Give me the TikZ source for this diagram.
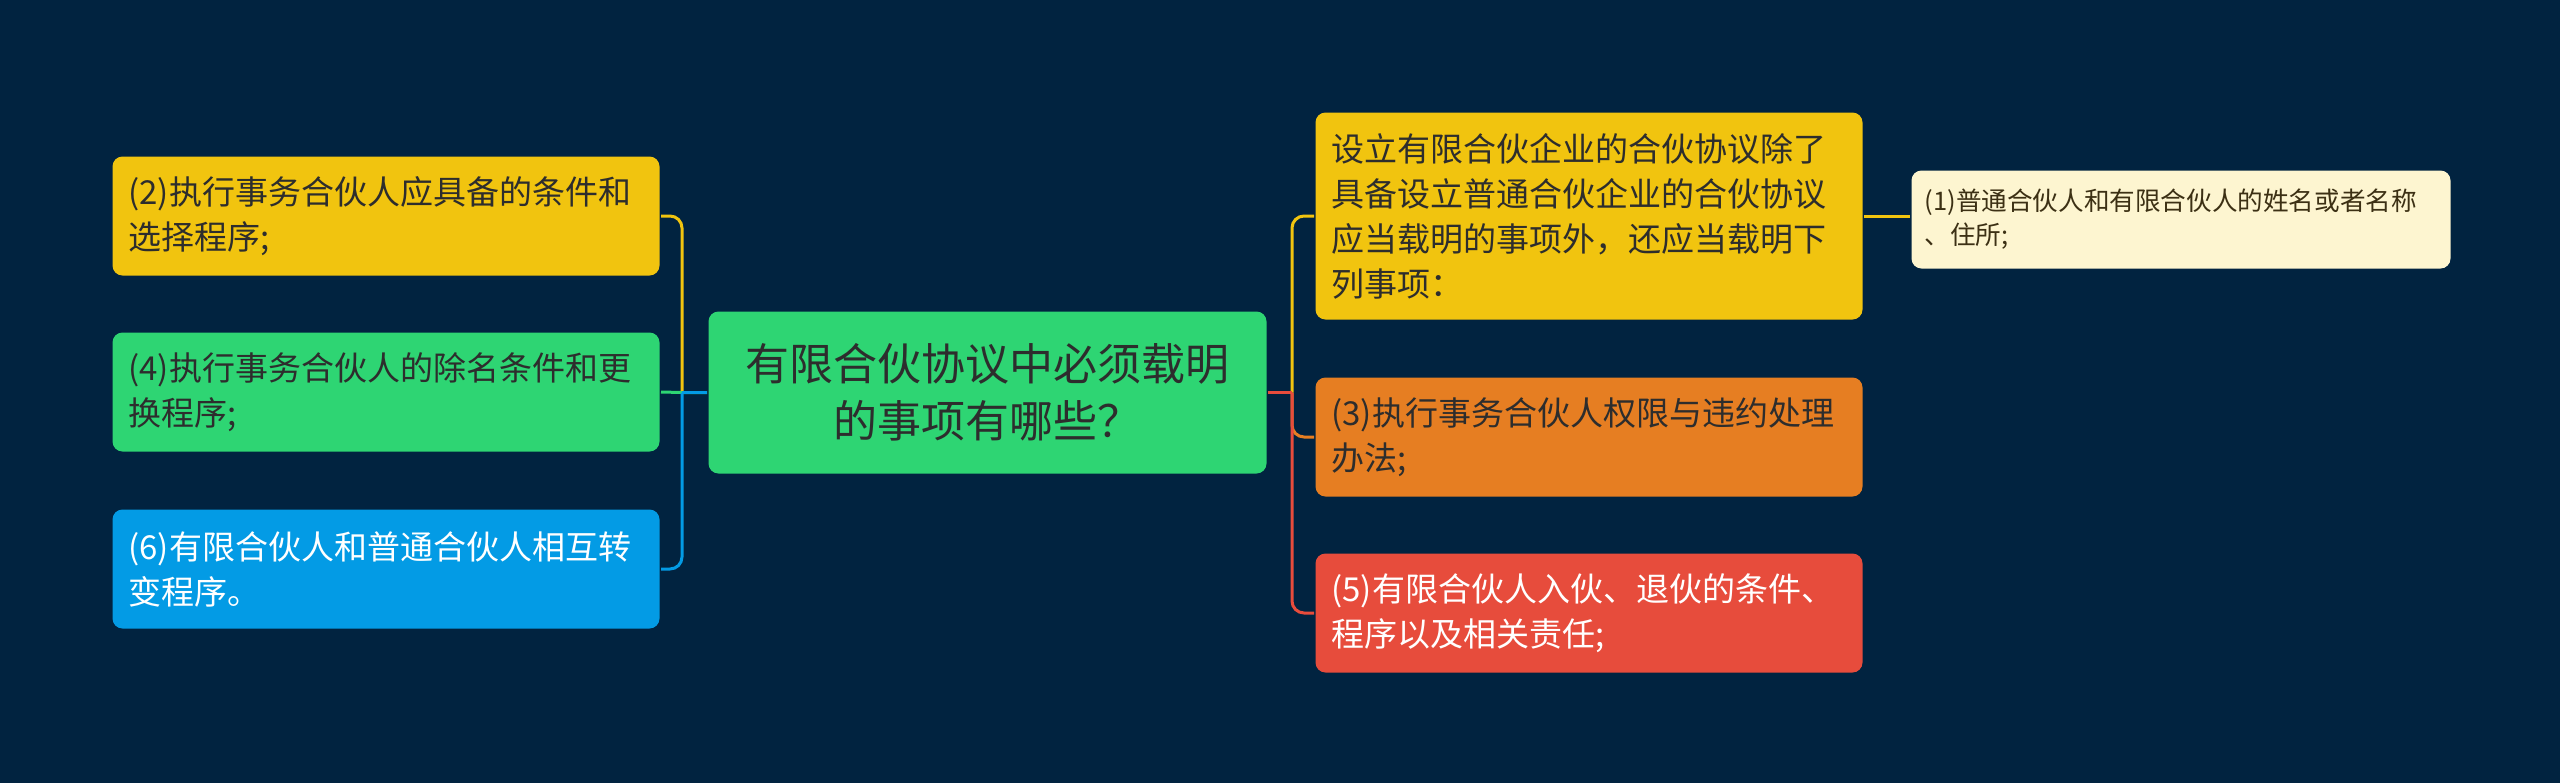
\documentclass[tikz,border=0pt]{standalone}
\usepackage{fontspec}
\setmainfont{Noto Sans CJK SC}
\usetikzlibrary{positioning}
\definecolor{navy}{RGB}{1,35,64}
\definecolor{mmyellow}{RGB}{241,196,15}
\definecolor{mmgreen}{RGB}{46,213,115}
\definecolor{mmblue}{RGB}{3,155,229}
\definecolor{mmorange}{RGB}{230,126,34}
\definecolor{mmred}{RGB}{231,76,60}
\definecolor{cream}{RGB}{253,245,208}
\definecolor{ink}{RGB}{45,45,45}
\definecolor{inkbrown}{RGB}{60,48,20}

\begin{document}
\begin{tikzpicture}[x=0.5pt,y=-0.5pt,line width=1.5pt]
  \tikzstyle{topic}=[rounded corners=5pt,anchor=north west,align=left,inner xsep=8pt,text width=257.5pt,minimum height=59.5pt,font=\fontsize{16.5}{22.5}\selectfont,text=ink]
  \tikzstyle{leaf}=[rounded corners=5pt,anchor=north west,align=left,inner xsep=6.5pt,text width=256.5pt,minimum height=49pt,font=\fontsize{12.8}{17}\selectfont,text=inkbrown,fill=cream]
  \fill[navy] (0,0) rectangle (2560,783);
  % centre
  \node[rounded corners=5pt,anchor=north west,align=center,inner xsep=8pt,text width=263pt,minimum height=81pt,font=\fontsize{22}{28.6}\selectfont,text=ink,fill=mmgreen] (ctr) at (707,310) {有限合伙协议中必须载明\\的事项有哪些？};
  % left side
  \node[topic,fill=mmyellow] (c2) at (111,155) {(2)执行事务合伙人应具备的条件和\\选择程序;};
  \node[topic,fill=mmgreen] (c4) at (111,331) {(4)执行事务合伙人的除名条件和更\\换程序;};
  \node[topic,fill=mmblue,text=white] (c6) at (111,508) {(6)有限合伙人和普通合伙人相互转\\变程序。};
  % right side
  \node[topic,fill=mmyellow,minimum height=103.5pt] (c1) at (1314,111) {设立有限合伙企业的合伙协议除了\\具备设立普通合伙企业的合伙协议\\应当载明的事项外，还应当载明下\\列事项：};
  \node[topic,fill=mmorange] (c3) at (1314,376) {(3)执行事务合伙人权限与违约处理\\办法;};
  \node[topic,fill=mmred,text=white] (c5) at (1314,552) {(5)有限合伙人入伙、退伙的条件、\\程序以及相关责任;};
  \node[leaf] (p1) at (1910,169) {(1)普通合伙人和有限合伙人的姓名或者名称\\、住所;};
  % branches
  \coordinate[left=12.5pt of ctr] (tl);
  \coordinate[right=12pt of ctr] (tr);
  \draw[mmyellow] (ctr.west) -- (tl);
  \draw[mmyellow,rounded corners=6pt] (tl) |- (c2.east);
  \draw[mmgreen] (ctr.west) -- (tl) -- (c4.east);
  \draw[mmblue] (ctr.west) -- (tl);
  \draw[mmblue,rounded corners=6pt] (tl) |- (c6.east);
  \draw[mmyellow] (ctr.east) -- (tr);
  \draw[mmyellow,rounded corners=6pt] (tr) |- (c1.west);
  \draw[mmorange] (ctr.east) -- (tr);
  \draw[mmorange,rounded corners=6pt] (tr) |- (c3.west);
  \draw[mmred] (ctr.east) -- (tr);
  \draw[mmred,rounded corners=6pt] (tr) |- (c5.west);
  \draw[mmyellow] (c1.east) -- (c1.east -| p1.west);
\end{tikzpicture}
\end{document}
